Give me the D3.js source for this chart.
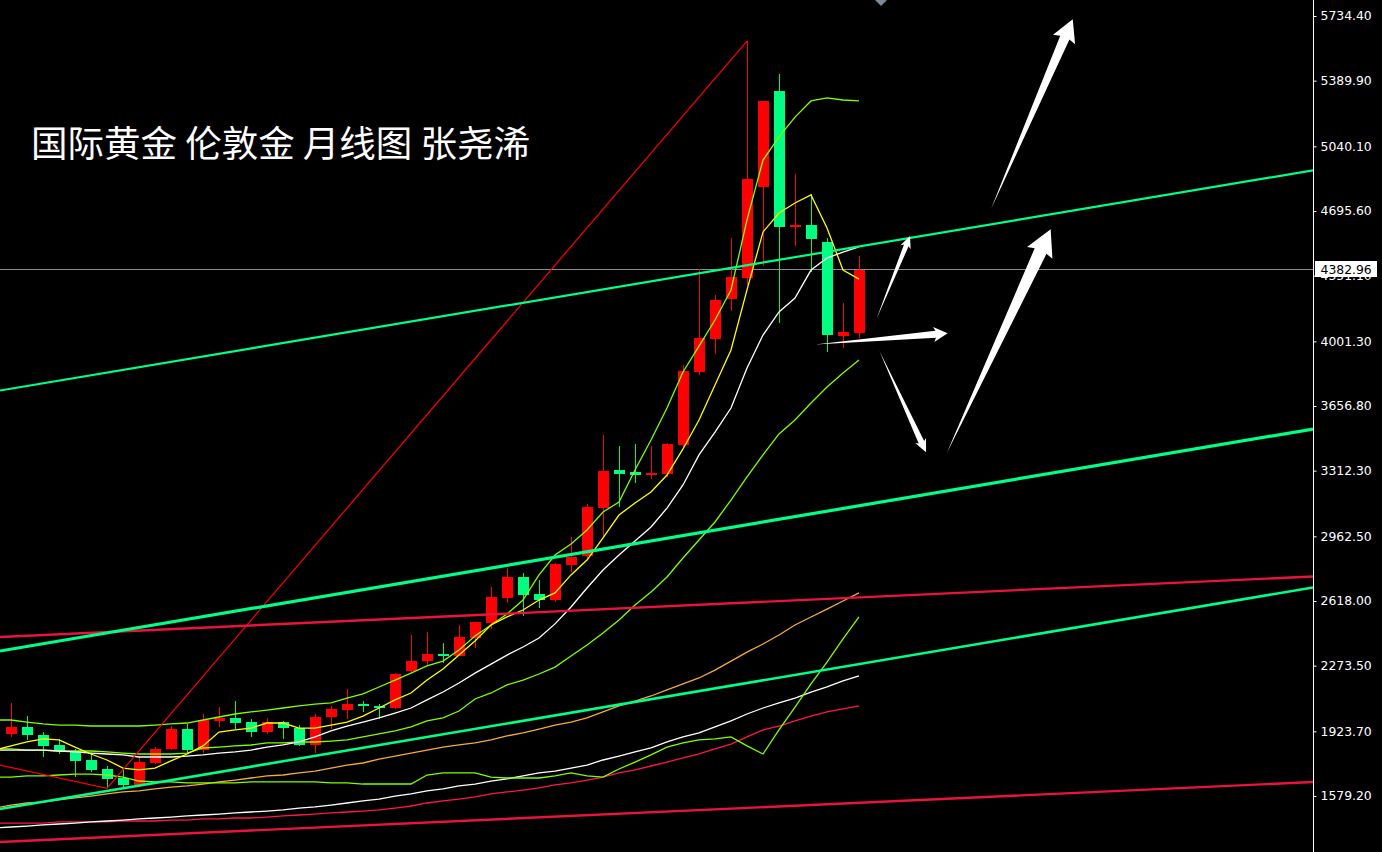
<!DOCTYPE html>
<html><head><meta charset="utf-8">
<script src="https://cdn.jsdelivr.net/npm/d3@7/dist/d3.min.js"></script>
<style>html,body{margin:0;padding:0;background:#000;overflow:hidden}</style>
</head><body>
<svg id="chart" width="1382" height="852"></svg>
<script>
// ---------- DATA ----------
const title = "国际黄金 伦敦金 月线图 张尧浠";
const lastPrice = 4382.96;
const tickValues = [5734.40, 5389.90, 5040.10, 4695.60, 4351.10, 4001.30, 3656.80, 3312.30, 2962.50, 2618.00, 2273.50, 1923.70, 1579.20];

// monthly candles, index 0..53
const opens  = [1911,1945,1904,1849,1821,1771,1721,1674,1638,1753,1828,1936,1824,1979,1995,1973,1922,1973,1943,1853,1996,2039,2069,2060,2050,2247,2300,2337,2327,2423,2502,2636,2746,2655,2625,2810,2854,3115,3316,3305,3291,3296,3449,3838,4014,4227,4339,4823,5335,4610,4621,4530,4030,4046];
const highs  = [2075,2005,1919,1885,1830,1810,1739,1730,1792,1842,1952,1961,2018,2053,2085,1988,1996,1980,1956,2018,2059,2149,2085,2069,2235,2437,2454,2394,2490,2506,2693,2795,2767,2730,2820,2957,3135,3502,3444,3454,3444,3461,3875,4387,4248,4552,5601,5282,5425,4893,4786,4552,4206,4456];
const lows   = [1893,1878,1789,1803,1682,1709,1620,1620,1626,1750,1824,1810,1810,1948,1935,1895,1908,1885,1847,1810,1935,1988,2027,1988,2041,2233,2277,2288,2325,2366,2469,2606,2540,2582,2614,2774,2840,2961,3120,3248,3266,3280,3438,3822,3934,4163,4301,4403,4099,4509,4371,3944,3966,4019];
const closes = [1947,1900,1847,1815,1767,1718,1668,1639,1760,1830,1936,1824,1984,1996,1970,1922,1973,1943,1853,2000,2041,2069,2057,2052,2229,2298,2336,2327,2426,2506,2639,2746,2652,2625,2815,2854,3117,3311,3293,3291,3301,3454,3843,4019,4221,4344,4866,5282,4610,4621,4546,4035,4051,4382.96];

// indicator lines, index -1..53
const lineStart = -1;
const maYellow = [1824,1846,1867,1883,1878,1840,1803,1771,1728,1718,1728,1766,1803,1846,1920,1931,1941,1968,1968,1941,1941,1957,1973,2005,2048,2091,2128,2197,2256,2330,2405,2490,2533,2570,2623,2661,2757,2836,2954,3076,3140,3199,3289,3428,3582,3769,3955,4275,4584,4685,4738,4781,4605,4381,4333];
const maWhite  = [1824,1824,1824,1824,1819,1814,1808,1803,1798,1787,1787,1787,1792,1798,1808,1814,1824,1840,1851,1867,1894,1926,1952,1973,1995,2021,2048,2091,2133,2181,2234,2282,2330,2373,2421,2496,2586,2687,2783,2863,2938,3012,3113,3236,3396,3518,3646,3859,4035,4158,4232,4381,4445,4477,4504];
const bandUpper = [1984,1984,1973,1963,1957,1957,1952,1952,1952,1952,1957,1963,1968,1984,2000,2016,2027,2037,2048,2059,2069,2075,2101,2123,2160,2197,2234,2272,2298,2357,2432,2490,2549,2623,2757,2863,2922,2996,3092,3145,3316,3476,3646,3838,3976,4115,4275,4648,4967,5090,5196,5282,5298,5287,5282];
const bandMid   = [1830,1830,1824,1824,1819,1819,1819,1814,1808,1803,1803,1803,1808,1835,1840,1846,1851,1862,1862,1867,1867,1872,1878,1894,1910,1926,1947,1979,1995,2032,2096,2128,2171,2197,2229,2266,2325,2384,2448,2517,2597,2666,2746,2847,2943,3039,3156,3279,3396,3508,3582,3673,3758,3833,3902];
const bandLower = [1680,1680,1686,1686,1691,1696,1696,1691,1680,1659,1654,1654,1649,1649,1649,1649,1654,1654,1654,1654,1654,1649,1649,1643,1643,1643,1643,1691,1702,1702,1702,1680,1675,1675,1675,1686,1702,1686,1680,1723,1760,1798,1840,1862,1878,1883,1894,1846,1803,1931,2053,2176,2293,2416,2533];
const maOrange = [1515,1531,1542,1547,1558,1569,1579,1590,1601,1606,1617,1627,1633,1643,1654,1664,1675,1686,1691,1702,1712,1728,1744,1755,1776,1792,1808,1824,1840,1851,1862,1878,1899,1915,1936,1957,1973,1995,2027,2059,2085,2112,2144,2176,2208,2250,2298,2346,2389,2437,2490,2533,2575,2618,2661];
const maWhiteLong = [1409,1414,1419,1425,1430,1435,1441,1446,1451,1457,1462,1467,1473,1478,1483,1489,1494,1499,1505,1515,1521,1531,1542,1553,1563,1579,1590,1606,1617,1633,1643,1659,1670,1686,1702,1712,1728,1744,1771,1792,1814,1835,1867,1894,1915,1947,1979,2016,2048,2075,2101,2133,2160,2192,2219];
const maCrimson = [1435,1435,1435,1435,1441,1441,1441,1441,1446,1446,1446,1451,1451,1457,1457,1462,1462,1467,1473,1478,1483,1489,1494,1499,1505,1515,1526,1542,1553,1563,1574,1590,1601,1611,1622,1638,1649,1664,1680,1702,1718,1739,1760,1782,1803,1830,1856,1894,1931,1952,1979,2005,2027,2043,2059];

// zigzag pivots
const zigzagIndex = [-12, 6, 46];
const zigzagPrice = [1952, 1620, 5601];

// trend channel lines: [index, price] pairs
const greenLines = [
  {a:[-0.6875,3739.3], b:[81.375,4912.4], w:2.2},
  {a:[-0.6875,2351.6], b:[81.375,3534.2], w:3.2},
  {a:[-0.6875,1509.9], b:[81.375,2689.9], w:2.6}
];
const crimsonLines = [
  {a:[-0.6875,2426.2], b:[81.375,2748.6], w:2.4},
  {a:[-0.6875,1334.1], b:[81.375,1653.6], w:2.4}
];

// forecast arrows: tail/tip in [index, price]
const arrows = [
  {tail:[61.25,4706], tip:[66.36,5717], head:20, barb:12, shaft:5},
  {tail:[54.11,4124], tip:[56.19,4562], head:10, barb:5.5, shaft:2.5},
  {tail:[50.25,3985], tip:[58.54,4044], head:12, barb:7.5, shaft:3.5},
  {tail:[54.27,3951], tip:[57.19,3410], head:11, barb:6, shaft:3},
  {tail:[58.48,3405], tip:[64.98,4598], head:24, barb:14, shaft:6.5}
];
const shiftMarkerIndex = 54.375;

// ---------- CHART ----------
const W = 1382, H = 852, plotRight = 1313;
const x = d3.scaleLinear().domain([0, 53]).range([11, 859]);
const y = d3.scaleLinear().domain([1579.2, 5734.4]).range([796, 16]);

const svg = d3.select('#chart');
svg.append('rect').attr('width', W).attr('height', H).attr('fill', '#000');
svg.append('defs').append('clipPath').attr('id', 'plot')
  .append('rect').attr('x', 0).attr('y', 0).attr('width', plotRight).attr('height', H);
const g = svg.append('g').attr('clip-path', 'url(#plot)');

// current price line
g.append('line')
  .attr('x1', 0).attr('x2', plotRight)
  .attr('y1', Math.round(y(lastPrice)) - 0.5).attr('y2', Math.round(y(lastPrice)) - 0.5)
  .attr('stroke', '#8c8c96').attr('stroke-width', 1);

// candles
const candles = opens.map((o, i) => ({i, o, h: highs[i], l: lows[i], c: closes[i]}));
const cg = g.append('g').attr('shape-rendering', 'crispEdges');
cg.selectAll('line.wick').data(candles).join('line').attr('class', 'wick')
  .attr('x1', d => Math.round(x(d.i)) + 0.5).attr('x2', d => Math.round(x(d.i)) + 0.5)
  .attr('y1', d => Math.round(y(d.h))).attr('y2', d => Math.round(y(d.l)))
  .attr('stroke', d => d.c >= d.o ? '#ff0000' : '#00ff00').attr('stroke-width', 1);
cg.selectAll('rect.body').data(candles).join('rect').attr('class', 'body')
  .attr('x', d => Math.round(x(d.i)) - 5).attr('width', 11)
  .attr('y', d => Math.round(y(Math.max(d.o, d.c))))
  .attr('height', d => Math.max(2, Math.round(y(Math.min(d.o, d.c)) - y(Math.max(d.o, d.c)))))
  .attr('fill', d => d.c >= d.o ? '#ff0000' : '#00ff80');

// indicator lines
const idxLine = d3.line().x((v, k) => x(k + lineStart)).y(v => y(v));
const series = [
  {v: maCrimson, c: '#ff1744'},
  {v: maWhiteLong, c: '#ffffff'},
  {v: maOrange, c: '#f5aa3c'},
  {v: bandLower, c: '#80ff00'},
  {v: bandMid, c: '#80ff00'},
  {v: bandUpper, c: '#80ff00'},
  {v: maWhite, c: '#ffffff'},
  {v: maYellow, c: '#ffff00'}
];
g.selectAll('path.ma').data(series).join('path').attr('class', 'ma')
  .attr('d', d => idxLine(d.v)).attr('fill', 'none')
  .attr('stroke', d => d.c).attr('stroke-width', 1.3);

// zigzag
g.append('path')
  .attr('d', d3.line().x(i => x(zigzagIndex[i])).y(i => y(zigzagPrice[i]))(zigzagIndex.map((_, i) => i)))
  .attr('fill', 'none').attr('stroke', '#ff0000').attr('stroke-width', 1.2);

// trend channels
const tl = d3.line().x(p => x(p[0])).y(p => y(p[1]));
g.selectAll('path.crim').data(crimsonLines).join('path').attr('class', 'crim')
  .attr('d', d => tl([d.a, d.b])).attr('stroke', '#e8143c').attr('stroke-width', d => d.w).attr('fill', 'none');
g.selectAll('path.grn').data(greenLines).join('path').attr('class', 'grn')
  .attr('d', d => tl([d.a, d.b])).attr('stroke', '#00ff84').attr('stroke-width', d => d.w).attr('fill', 'none');

// arrows
function arrowPts(a) {
  const tx = x(a.tail[0]), ty = y(a.tail[1]), px = x(a.tip[0]), py = y(a.tip[1]);
  const dx = px - tx, dy = py - ty, len = Math.hypot(dx, dy);
  const ux = dx / len, uy = dy / len, nx = -uy, ny = ux;
  const bx = px - ux * a.head, by = py - uy * a.head;
  return [[tx, ty],
    [bx + nx * a.shaft, by + ny * a.shaft],
    [bx + nx * a.barb - ux * 2, by + ny * a.barb - uy * 2],
    [px, py],
    [bx - nx * a.barb - ux * 2, by - ny * a.barb - uy * 2],
    [bx - nx * a.shaft, by - ny * a.shaft]];
}
g.selectAll('polygon.arrow').data(arrows).join('polygon').attr('class', 'arrow')
  .attr('points', d => arrowPts(d).map(p => p.join(',')).join(' '))
  .attr('fill', '#ffffff');

// chart-shift marker
const mx = x(shiftMarkerIndex);
svg.append('path').attr('d', `M${mx - 6},0 L${mx + 6},0 L${mx},6 Z`).attr('fill', '#7a8a9a');

// title
svg.append('text').attr('x', 31).attr('y', 157)
  .attr('fill', '#fff').style('font-family', '"Noto Sans CJK SC", sans-serif')
  .style('font-size', '36.5px').text(title);

// right price axis
const axis = d3.axisRight(y).tickValues(tickValues).tickFormat(d3.format('.2f')).tickSize(3).tickPadding(4);
const ag = svg.append('g').attr('transform', `translate(${plotRight + 0.5},0)`).call(axis);
ag.select('.domain').remove();
ag.selectAll('line').attr('stroke', '#fff');
ag.selectAll('text').attr('fill', '#fff').style('font-family', '"DejaVu Sans", sans-serif').style('font-size', '12.4px');
svg.append('line').attr('x1', plotRight + 0.5).attr('x2', plotRight + 0.5).attr('y1', 0).attr('y2', H)
  .attr('stroke', '#fff').attr('stroke-width', 1);

// current price tag (drawn over the partly hidden 4351.10 label, as in the source chart)
const py0 = y(lastPrice);
svg.append('rect').attr('x', plotRight + 2).attr('y', Math.round(py0) - 9).attr('width', 62).attr('height', 16).attr('fill', '#fff');
svg.append('text').attr('x', plotRight + 7.5).attr('y', py0).attr('dy', '0.32em')
  .attr('fill', '#000').style('font-family', '"DejaVu Sans", sans-serif').style('font-size', '12.4px')
  .text(d3.format('.2f')(lastPrice));
</script>
</body></html>
